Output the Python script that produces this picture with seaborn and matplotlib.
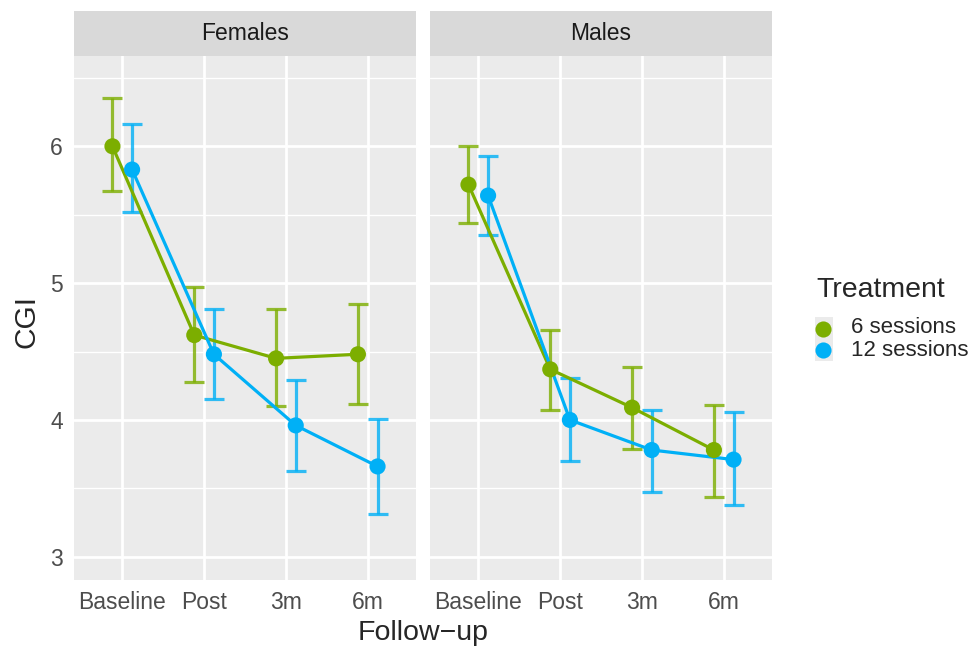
import numpy as np
import matplotlib
matplotlib.use("Agg")
import matplotlib.pyplot as plt
import seaborn as sns
import pandas as pd

# data
timepoints = ["Baseline", "Post", "3m", "6m"]
panels = ["Females", "Males"]
treatments = ["6 sessions", "12 sessions"]

fem_6_mean = [6.00, 4.62, 4.45, 4.48]
fem_6_lo = [5.67, 4.28, 4.10, 4.12]
fem_6_hi = [6.35, 4.97, 4.81, 4.85]
fem_12_mean = [5.83, 4.48, 3.96, 3.66]
fem_12_lo = [5.52, 4.15, 3.63, 3.31]
fem_12_hi = [6.16, 4.81, 4.29, 4.01]

mal_6_mean = [5.72, 4.37, 4.09, 3.78]
mal_6_lo = [5.44, 4.07, 3.79, 3.44]
mal_6_hi = [6.00, 4.66, 4.39, 4.11]
mal_12_mean = [5.64, 4.00, 3.78, 3.71]
mal_12_lo = [5.35, 3.70, 3.47, 3.38]
mal_12_hi = [5.93, 4.31, 4.07, 4.06]

colors = {"6 sessions": "#7CAE00", "12 sessions": "#00B0F6"}
dodge = {"6 sessions": -0.12, "12 sessions": 0.12}

rows = []
series = {
    ("Females", "6 sessions"): (fem_6_mean, fem_6_lo, fem_6_hi),
    ("Females", "12 sessions"): (fem_12_mean, fem_12_lo, fem_12_hi),
    ("Males", "6 sessions"): (mal_6_mean, mal_6_lo, mal_6_hi),
    ("Males", "12 sessions"): (mal_12_mean, mal_12_lo, mal_12_hi),
}
for (p, t), (m, lo, hi) in series.items():
    for i, tp in enumerate(timepoints):
        rows.append({"sex": p, "Treatment": t, "time": tp, "idx": i,
                     "CGI": m[i], "lo": lo[i], "hi": hi[i]})
df = pd.DataFrame(rows)
df["x"] = df["idx"] + df["Treatment"].map(dodge)

sns.set_style("white")
plt.rcParams["font.family"] = ["Liberation Sans", "DejaVu Sans"]

fig = plt.figure(figsize=(9.72, 6.47), dpi=100)
W, H = 972, 647
panel_x = [(74, 416), (430, 772)]
top, bottom = 56, 580
strip_top = 11

for k, (p, (x0, x1)) in enumerate(zip(panels, panel_x)):
    ax = fig.add_axes([x0 / W, 1 - bottom / H, (x1 - x0) / W, (bottom - top) / H])
    ax.set_facecolor("#EBEBEB")
    for s in ax.spines.values():
        s.set_visible(False)
    sub = df[df["sex"] == p]
    for t in treatments:
        d = sub[sub["Treatment"] == t]
        ax.errorbar(d["x"], d["CGI"], yerr=[d["CGI"] - d["lo"], d["hi"] - d["CGI"]],
                    fmt="none", ecolor=colors[t], alpha=0.8, elinewidth=2.3,
                    capsize=7.5, capthick=2.3, zorder=3)
    sns.lineplot(data=sub, x="x", y="CGI", hue="Treatment", hue_order=treatments,
                 palette=colors, linewidth=2.3, ax=ax, legend=False, sort=False,
                 estimator=None, zorder=4)
    sns.scatterplot(data=sub, x="x", y="CGI", hue="Treatment", hue_order=treatments,
                    palette=colors, s=135, linewidth=0, ax=ax, legend=False, zorder=5)

    ax.set_xlim(-0.59, 3.59)
    ax.set_ylim(2.83, 6.66)
    ax.set_xticks(range(len(timepoints)))
    ax.set_xticklabels(timepoints)
    ax.set_yticks([3, 4, 5, 6])
    ax.set_yticks([3.5, 4.5, 5.5, 6.5], minor=True)
    ax.grid(which="major", color="white", linewidth=2.0)
    ax.grid(which="minor", axis="y", color="white", linewidth=1.0)
    ax.set_axisbelow(True)
    ax.tick_params(axis="both", which="major", length=5, width=2, color="#333333",
                   labelsize=16.5, labelcolor="#4D4D4D", pad=3)
    ax.tick_params(axis="y", which="minor", length=0)
    ax.set_xlabel("")
    ax.set_ylabel("")
    if k == 0:
        ax.set_yticklabels(["3", "4", "5", "6"])
    else:
        ax.set_yticklabels([])
        ax.tick_params(axis="y", which="major", length=0)

    sax = fig.add_axes([x0 / W, 1 - top / H, (x1 - x0) / W, (top - strip_top) / H])
    sax.set_facecolor("#D9D9D9")
    sax.set_xticks([])
    sax.set_yticks([])
    for s in sax.spines.values():
        s.set_visible(False)
    sax.text(0.5, 0.5, p, ha="center", va="center", fontsize=16.5, color="#1A1A1A",
             transform=sax.transAxes)

fig.text(423 / W, 1 - 633 / H, "Follow\u2212up", ha="center", va="center",
         fontsize=20.5)
fig.text(26 / W, 1 - 321 / H, "CGI", ha="center", va="center", rotation=90,
         fontsize=21.5)

# legend
fig.text(816 / W, 1 - 290 / H, "Treatment", ha="left", va="center", fontsize=20.5)
lax = fig.add_axes([815 / W, 1 - 361 / H, 18 / W, 44 / H])
lax.set_facecolor("#EBEBEB")
for s in lax.spines.values():
    s.set_visible(False)
lax.set_xticks([])
lax.set_yticks([])
lax.set_xlim(0, 1)
lax.set_ylim(0, 2)
for i, t in enumerate(treatments):
    lax.scatter([0.45], [1.45 - 0.95 * i], s=135, color=colors[t], linewidth=0,
                clip_on=False)
    fig.text(851 / W, 1 - (327 + 23 * i) / H, t, ha="left", va="center", fontsize=16)

fig.savefig("out.png", dpi=100)
